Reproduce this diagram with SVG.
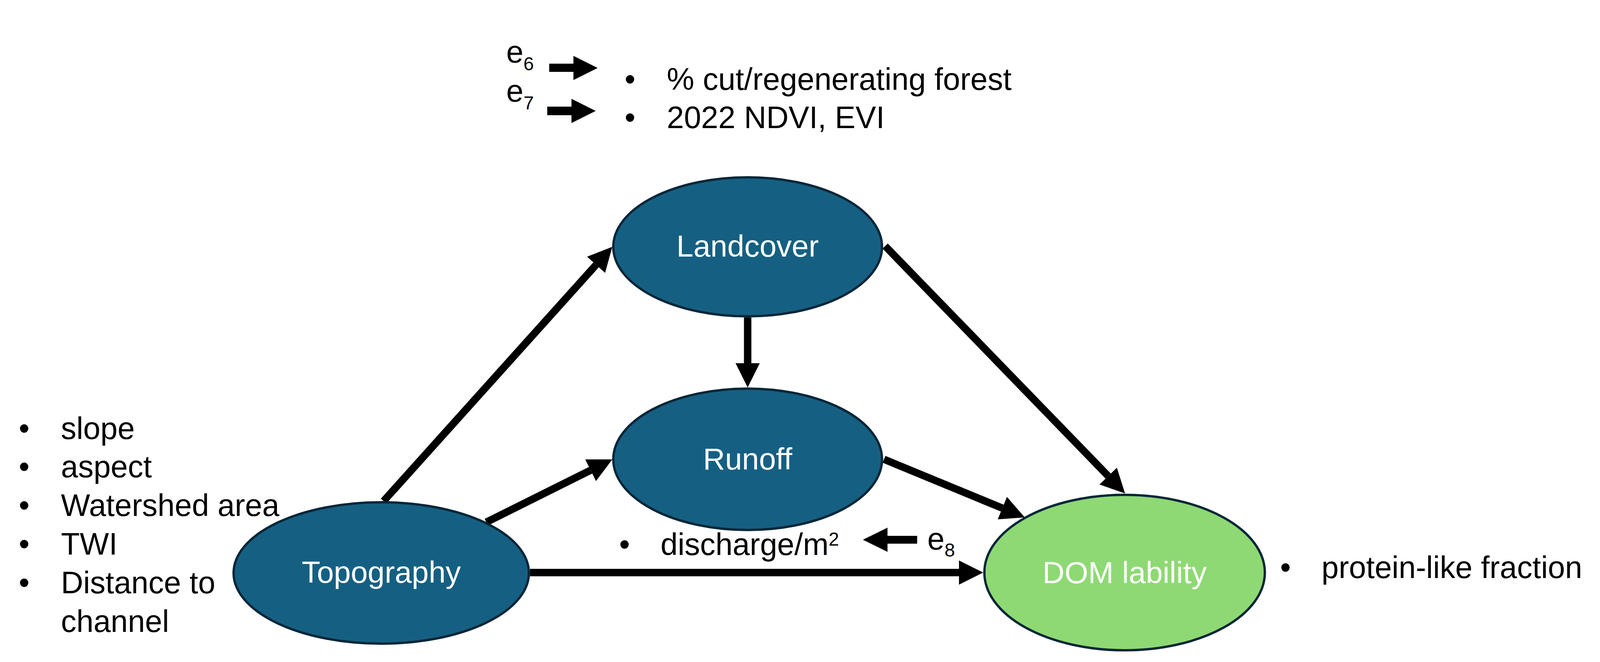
<svg xmlns="http://www.w3.org/2000/svg" width="4280" height="1695" viewBox="0 0 4280 1695">
<style>
  .node { fill: #156082; stroke: #062638; stroke-width: 6; }
  .node-green { fill: #8ED973; stroke: #062638; stroke-width: 6; }
  .lbl { font-family: "Liberation Sans", Arial, sans-serif; font-size: 78px; fill: #ffffff; text-anchor: middle; }
  .txt { font-family: "Liberation Sans", Arial, sans-serif; font-size: 79px; fill: #000000; }
  .sub { font-size: 48px; }
  .conn { stroke: #000000; stroke-width: 19; fill: none; marker-end: url(#ah); }
  .blk { fill: #000000; }
</style>
<defs>
  <marker id="ah" markerUnits="userSpaceOnUse" markerWidth="62" markerHeight="62" refX="0" refY="31" orient="auto" overflow="visible">
    <path d="M0,0 L62,31 L0,62 Z" fill="#000000"/>
  </marker>
</defs>
<rect width="4280" height="1695" fill="#ffffff"/>

<g id="connectors">
  <line class="conn" x1="982" y1="1283" x2="1526" y2="678"/>
  <line class="conn" x1="1245" y1="1337" x2="1512" y2="1204"/>
  <line class="conn" x1="1357" y1="1466" x2="2455" y2="1466"/>
  <line class="conn" x1="2266" y1="630" x2="2837" y2="1219"/>
  <line class="conn" x1="2263" y1="1176" x2="2566" y2="1301"/>
  <line class="conn" x1="1914" y1="813" x2="1914" y2="930"/>
</g>

<g id="node-landcover">
  <ellipse class="node" cx="1914" cy="632" rx="344" ry="178"/>
  <text class="lbl" x="1914" y="657">Landcover</text>
</g>
<g id="node-runoff">
  <ellipse class="node" cx="1914" cy="1176" rx="344" ry="181"/>
  <text class="lbl" x="1914" y="1202">Runoff</text>
</g>
<g id="node-topography">
  <ellipse class="node" cx="976" cy="1467" rx="378" ry="181"/>
  <text class="lbl" x="976" y="1492">Topography</text>
</g>
<g id="node-dom">
  <ellipse class="node-green" cx="2879" cy="1466" rx="359" ry="199"/>
  <text class="lbl" x="2879" y="1493">DOM lability</text>
</g>

<g id="landcover-notes">
  <text class="txt" x="1296" y="160">e<tspan class="sub" dy="20">6</tspan></text>
  <text class="txt" x="1296" y="260">e<tspan class="sub" dy="20">7</tspan></text>
  <polygon class="blk" points="1406,163 1468,163 1468,143 1530,174 1468,205 1468,184 1406,184"/>
  <polygon class="blk" points="1401,273 1463,273 1463,253 1525,284 1463,315 1463,295 1401,295"/>
  <text class="txt" x="1599" y="230">•</text>
  <text class="txt" x="1707" y="230">% cut/regenerating forest</text>
  <text class="txt" x="1599" y="328">•</text>
  <text class="txt" x="1707" y="328">2022 NDVI, EVI</text>
</g>

<g id="topography-notes">
  <text class="txt" x="48" y="1124">•</text>
  <text class="txt" x="156" y="1124">slope</text>
  <text class="txt" x="48" y="1222">•</text>
  <text class="txt" x="156" y="1222">aspect</text>
  <text class="txt" x="48" y="1321">•</text>
  <text class="txt" x="156" y="1321">Watershed area</text>
  <text class="txt" x="48" y="1420">•</text>
  <text class="txt" x="156" y="1420">TWI</text>
  <text class="txt" x="48" y="1519">•</text>
  <text class="txt" x="156" y="1519">Distance to</text>
  <text class="txt" x="156" y="1618">channel</text>
</g>

<g id="runoff-notes">
  <text class="txt" x="1585" y="1421">•</text>
  <text class="txt" x="1691" y="1421">discharge/m<tspan class="sub" dy="-24">2</tspan></text>
  <polygon class="blk" points="2209,1382 2272,1351 2272,1372 2348,1372 2348,1392 2272,1392 2272,1413"/>
  <text class="txt" x="2374" y="1407">e<tspan class="sub" dy="18">8</tspan></text>
</g>

<g id="dom-notes">
  <text class="txt" x="3277" y="1480">•</text>
  <text class="txt" x="3383" y="1480">protein-like fraction</text>
</g>
</svg>
